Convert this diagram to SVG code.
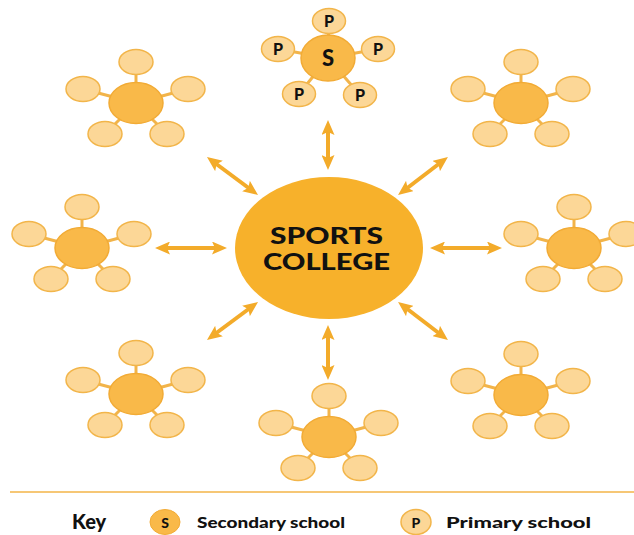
<svg xmlns="http://www.w3.org/2000/svg" width="634" height="535" viewBox="0 0 634 535">
<style>
.big{fill:#f7b12b}
.hub{fill:#f9b949;stroke:#f2ab35;stroke-width:1.5}
.sat{fill:#fcd797;stroke:#f2b54a;stroke-width:1.5}
.spoke{stroke:#f2b44a;stroke-width:3}
.arr{stroke:#f3ab2a;stroke-width:4;fill:none}
.lbl{font-family:Lato,"Open Sans","Liberation Sans",sans-serif;font-weight:900;fill:#111}
</style>
<defs>
<marker id="ah" viewBox="0 0 15 13" refX="5" refY="6.5" markerWidth="15" markerHeight="13" markerUnits="userSpaceOnUse" orient="auto-start-reverse">
<path d="M0,0 L15,6.5 L0,13 L3,6.5 z" fill="#f3ab2a"/>
</marker>
</defs>
<rect width="634" height="535" fill="#fff"/>

<g id="connectors">
<line class="arr" x1="328" y1="130" x2="328" y2="160" marker-start="url(#ah)" marker-end="url(#ah)"/>
<line class="arr" x1="328" y1="335" x2="328" y2="370" marker-start="url(#ah)" marker-end="url(#ah)"/>
<line class="arr" x1="165" y1="248" x2="217" y2="248" marker-start="url(#ah)" marker-end="url(#ah)"/>
<line class="arr" x1="440" y1="248" x2="492" y2="248" marker-start="url(#ah)" marker-end="url(#ah)"/>
<line class="arr" x1="215" y1="163" x2="250" y2="189" marker-start="url(#ah)" marker-end="url(#ah)"/>
<line class="arr" x1="440" y1="163" x2="406" y2="189" marker-start="url(#ah)" marker-end="url(#ah)"/>
<line class="arr" x1="215" y1="334" x2="250" y2="308" marker-start="url(#ah)" marker-end="url(#ah)"/>
<line class="arr" x1="440" y1="334" x2="406" y2="308" marker-start="url(#ah)" marker-end="url(#ah)"/>
</g>

<g id="sports-college">
<ellipse class="big" cx="329" cy="248" rx="94" ry="71"/>
<text class="lbl" x="326.5" y="244" font-size="22" text-anchor="middle" textLength="113" lengthAdjust="spacingAndGlyphs">SPORTS</text>
<text class="lbl" x="326.5" y="270" font-size="22" text-anchor="middle" textLength="127" lengthAdjust="spacingAndGlyphs">COLLEGE</text>
</g>

<g id="cluster-top" transform="translate(328,58)">
<g class="spoke">
<line x1="0" y1="0" x2="1" y2="-37"/><line x1="0" y1="0" x2="-50" y2="-9"/><line x1="0" y1="0" x2="50" y2="-9"/><line x1="0" y1="0" x2="-29" y2="36"/><line x1="0" y1="0" x2="32" y2="37"/>
</g>
<ellipse class="sat" cx="1" cy="-37" rx="16.5" ry="12.5"/>
<ellipse class="sat" cx="-50" cy="-9" rx="16.5" ry="12.5"/>
<ellipse class="sat" cx="50" cy="-9" rx="16.5" ry="12.5"/>
<ellipse class="sat" cx="-29" cy="36" rx="16.5" ry="12.5"/>
<ellipse class="sat" cx="32" cy="37" rx="16.5" ry="12.5"/>
<ellipse class="hub" cx="0" cy="0" rx="27" ry="23"/>
<g class="lbl" font-size="16" text-anchor="middle">
<text x="1" y="-31">P</text><text x="-50" y="-3">P</text><text x="50" y="-3">P</text><text x="-29" y="42">P</text><text x="32" y="43">P</text>
</g>
<text class="lbl" x="0" y="8" font-size="22" text-anchor="middle">S</text>
</g>

<g id="cluster-upper-left" transform="translate(136,103)">
<g class="spoke"><line x1="0" y1="0" x2="0" y2="-41"/><line x1="0" y1="0" x2="-53" y2="-14"/><line x1="0" y1="0" x2="52" y2="-14"/><line x1="0" y1="0" x2="-31" y2="31"/><line x1="0" y1="0" x2="31" y2="31"/></g>
<ellipse class="sat" cx="0" cy="-41" rx="17" ry="12.5"/><ellipse class="sat" cx="-53" cy="-14" rx="17" ry="12.5"/><ellipse class="sat" cx="52" cy="-14" rx="17" ry="12.5"/><ellipse class="sat" cx="-31" cy="31" rx="17" ry="12.5"/><ellipse class="sat" cx="31" cy="31" rx="17" ry="12.5"/>
<ellipse class="hub" cx="0" cy="0" rx="27" ry="20.5"/>
</g>

<g id="cluster-upper-right" transform="translate(521,103)">
<g class="spoke"><line x1="0" y1="0" x2="0" y2="-41"/><line x1="0" y1="0" x2="-53" y2="-14"/><line x1="0" y1="0" x2="52" y2="-14"/><line x1="0" y1="0" x2="-31" y2="31"/><line x1="0" y1="0" x2="31" y2="31"/></g>
<ellipse class="sat" cx="0" cy="-41" rx="17" ry="12.5"/><ellipse class="sat" cx="-53" cy="-14" rx="17" ry="12.5"/><ellipse class="sat" cx="52" cy="-14" rx="17" ry="12.5"/><ellipse class="sat" cx="-31" cy="31" rx="17" ry="12.5"/><ellipse class="sat" cx="31" cy="31" rx="17" ry="12.5"/>
<ellipse class="hub" cx="0" cy="0" rx="27" ry="20.5"/>
</g>

<g id="cluster-left" transform="translate(82,248)">
<g class="spoke"><line x1="0" y1="0" x2="0" y2="-41"/><line x1="0" y1="0" x2="-53" y2="-14"/><line x1="0" y1="0" x2="52" y2="-14"/><line x1="0" y1="0" x2="-31" y2="31"/><line x1="0" y1="0" x2="31" y2="31"/></g>
<ellipse class="sat" cx="0" cy="-41" rx="17" ry="12.5"/><ellipse class="sat" cx="-53" cy="-14" rx="17" ry="12.5"/><ellipse class="sat" cx="52" cy="-14" rx="17" ry="12.5"/><ellipse class="sat" cx="-31" cy="31" rx="17" ry="12.5"/><ellipse class="sat" cx="31" cy="31" rx="17" ry="12.5"/>
<ellipse class="hub" cx="0" cy="0" rx="27" ry="20.5"/>
</g>

<g id="cluster-right" transform="translate(574,248)">
<g class="spoke"><line x1="0" y1="0" x2="0" y2="-41"/><line x1="0" y1="0" x2="-53" y2="-14"/><line x1="0" y1="0" x2="52" y2="-14"/><line x1="0" y1="0" x2="-31" y2="31"/><line x1="0" y1="0" x2="31" y2="31"/></g>
<ellipse class="sat" cx="0" cy="-41" rx="17" ry="12.5"/><ellipse class="sat" cx="-53" cy="-14" rx="17" ry="12.5"/><ellipse class="sat" cx="52" cy="-14" rx="17" ry="12.5"/><ellipse class="sat" cx="-31" cy="31" rx="17" ry="12.5"/><ellipse class="sat" cx="31" cy="31" rx="17" ry="12.5"/>
<ellipse class="hub" cx="0" cy="0" rx="27" ry="20.5"/>
</g>

<g id="cluster-lower-left" transform="translate(136,394)">
<g class="spoke"><line x1="0" y1="0" x2="0" y2="-41"/><line x1="0" y1="0" x2="-53" y2="-14"/><line x1="0" y1="0" x2="52" y2="-14"/><line x1="0" y1="0" x2="-31" y2="31"/><line x1="0" y1="0" x2="31" y2="31"/></g>
<ellipse class="sat" cx="0" cy="-41" rx="17" ry="12.5"/><ellipse class="sat" cx="-53" cy="-14" rx="17" ry="12.5"/><ellipse class="sat" cx="52" cy="-14" rx="17" ry="12.5"/><ellipse class="sat" cx="-31" cy="31" rx="17" ry="12.5"/><ellipse class="sat" cx="31" cy="31" rx="17" ry="12.5"/>
<ellipse class="hub" cx="0" cy="0" rx="27" ry="20.5"/>
</g>

<g id="cluster-bottom" transform="translate(329,437)">
<g class="spoke"><line x1="0" y1="0" x2="0" y2="-41"/><line x1="0" y1="0" x2="-53" y2="-14"/><line x1="0" y1="0" x2="52" y2="-14"/><line x1="0" y1="0" x2="-31" y2="31"/><line x1="0" y1="0" x2="31" y2="31"/></g>
<ellipse class="sat" cx="0" cy="-41" rx="17" ry="12.5"/><ellipse class="sat" cx="-53" cy="-14" rx="17" ry="12.5"/><ellipse class="sat" cx="52" cy="-14" rx="17" ry="12.5"/><ellipse class="sat" cx="-31" cy="31" rx="17" ry="12.5"/><ellipse class="sat" cx="31" cy="31" rx="17" ry="12.5"/>
<ellipse class="hub" cx="0" cy="0" rx="27" ry="20.5"/>
</g>

<g id="cluster-lower-right" transform="translate(521,395)">
<g class="spoke"><line x1="0" y1="0" x2="0" y2="-41"/><line x1="0" y1="0" x2="-53" y2="-14"/><line x1="0" y1="0" x2="52" y2="-14"/><line x1="0" y1="0" x2="-31" y2="31"/><line x1="0" y1="0" x2="31" y2="31"/></g>
<ellipse class="sat" cx="0" cy="-41" rx="17" ry="12.5"/><ellipse class="sat" cx="-53" cy="-14" rx="17" ry="12.5"/><ellipse class="sat" cx="52" cy="-14" rx="17" ry="12.5"/><ellipse class="sat" cx="-31" cy="31" rx="17" ry="12.5"/><ellipse class="sat" cx="31" cy="31" rx="17" ry="12.5"/>
<ellipse class="hub" cx="0" cy="0" rx="27" ry="20.5"/>
</g>

<g id="key">
<line x1="10" y1="492" x2="634" y2="492" stroke="#f3b447" stroke-width="1.5"/>
<text class="lbl" x="72" y="529" font-size="20">Key</text>
<ellipse cx="165" cy="522" rx="15" ry="12.5" fill="#f9b949" stroke="#f2ab35" stroke-width="1"/>
<text class="lbl" x="165" y="527.5" font-size="14" text-anchor="middle">S</text>
<text class="lbl" x="197" y="527.5" font-size="15" textLength="148" lengthAdjust="spacingAndGlyphs">Secondary school</text>
<ellipse cx="416" cy="522" rx="15" ry="12.5" fill="#fcd797" stroke="#f2b54a" stroke-width="1.5"/>
<text class="lbl" x="416" y="527.5" font-size="14" text-anchor="middle">P</text>
<text class="lbl" x="446" y="527.5" font-size="15" textLength="145" lengthAdjust="spacingAndGlyphs">Primary school</text>
</g>
</svg>
